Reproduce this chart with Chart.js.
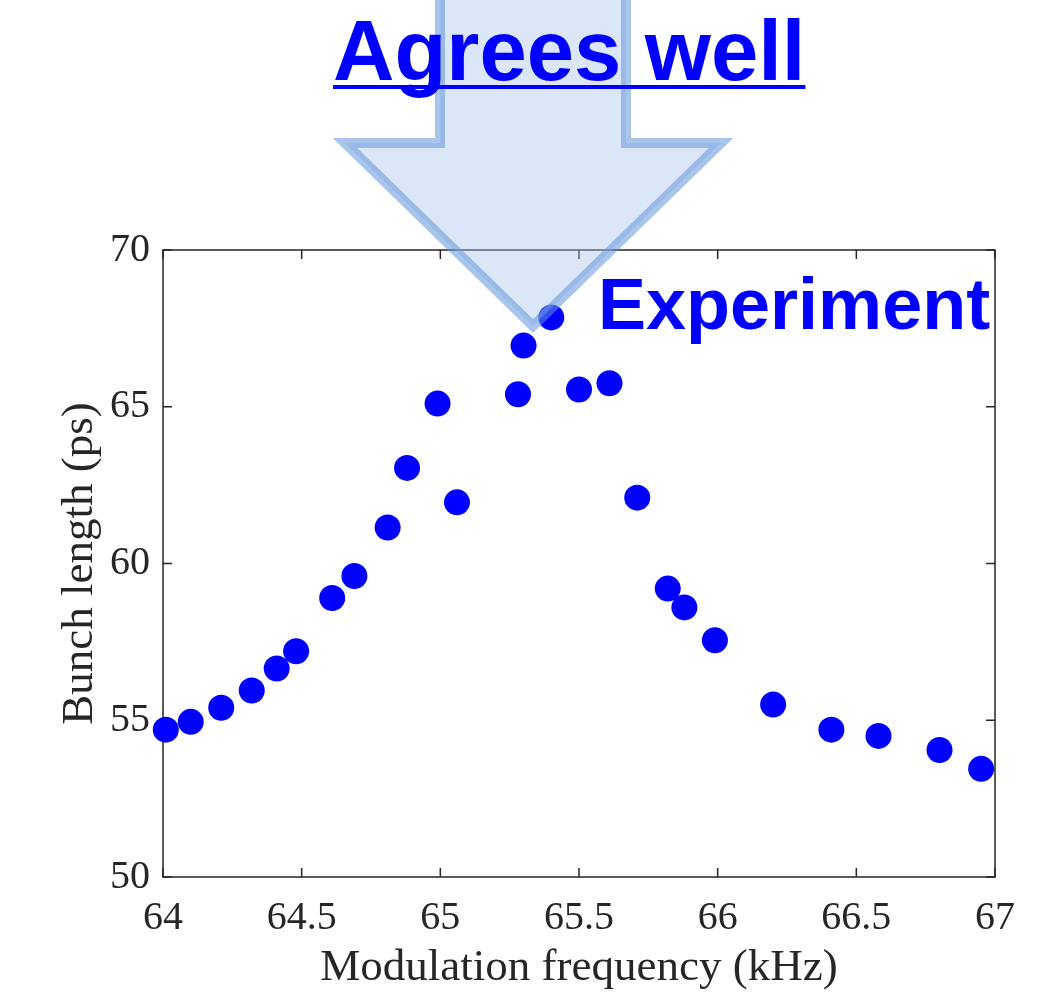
<!DOCTYPE html>
<html>
<head>
<meta charset="utf-8">
<script src="https://cdn.jsdelivr.net/npm/chart.js@4"></script>
<style>
  html, body { margin: 0; padding: 0; background: #fff; }
  #wrap { width: 1040px; height: 995px; position: relative; }
</style>
</head>
<body>
<div id="wrap"><canvas id="myChart" width="1040" height="995"></canvas></div>
<script>

// modulation frequency (kHz) and measured bunch length (ps)
const freq = [64.01, 64.10, 64.21, 64.32, 64.41, 64.48, 64.61, 64.69, 64.81, 64.88,
  64.99, 65.06, 65.28, 65.30, 65.40, 65.50, 65.61, 65.71, 65.82, 65.88,
  65.99, 66.20, 66.41, 66.58, 66.80, 66.95];
const bunchLength = [54.7, 54.95, 55.4, 55.95, 56.65, 57.2, 58.9, 59.6, 61.15, 63.05,
  65.1, 61.95, 65.4, 66.95, 67.85, 65.55, 65.75, 62.1, 59.2, 58.6,
  57.55, 55.5, 54.7, 54.5, 54.05, 53.45];

const xRange = [64, 67];
const yRange = [50, 70];

const axisColor = '#262626';
const serif = "'Liberation Serif', 'Times New Roman', serif";
const tickFont = { family: serif, size: 40 };
const titleFont = { family: serif, size: 45 };

// box around the plot + inward ticks (MATLAB style)
const boxTicks = {
  id: 'boxTicks',
  beforeDatasetsDraw(chart) {
    const { ctx, chartArea: { left, right, top, bottom }, scales: { x, y } } = chart;
    const tl = 9;
    ctx.save();
    ctx.strokeStyle = axisColor;
    ctx.lineWidth = 1.5;
    ctx.strokeRect(left, top, right - left, bottom - top);
    ctx.beginPath();
    x.ticks.forEach(t => {
      const px = x.getPixelForValue(t.value);
      ctx.moveTo(px, bottom); ctx.lineTo(px, bottom - tl);
      ctx.moveTo(px, top); ctx.lineTo(px, top + tl);
    });
    y.ticks.forEach(t => {
      const py = y.getPixelForValue(t.value);
      ctx.moveTo(left, py); ctx.lineTo(left + tl, py);
      ctx.moveTo(right, py); ctx.lineTo(right - tl, py);
    });
    ctx.stroke();
    ctx.restore();
  }
};

// the big translucent arrow pointing at the peak
const bigArrow = {
  id: 'bigArrow',
  afterDatasetsDraw(chart) {
    const { ctx } = chart;
    ctx.save();
    ctx.beginPath();
    ctx.moveTo(440, -20);
    ctx.lineTo(440, 143);
    ctx.lineTo(345, 143);
    ctx.lineTo(533, 326);
    ctx.lineTo(721, 143);
    ctx.lineTo(626, 143);
    ctx.lineTo(626, -20);
    ctx.closePath();
    ctx.fillStyle = 'rgba(165,195,238,0.4)';
    ctx.fill();
    ctx.lineWidth = 10;
    ctx.lineJoin = 'miter';
    ctx.strokeStyle = 'rgba(100,150,220,0.55)';
    ctx.stroke();
    ctx.restore();
  }
};

const labels = {
  id: 'labels',
  afterDraw(chart) {
    const { ctx } = chart;
    ctx.save();
    ctx.fillStyle = '#0000ff';
    ctx.textAlign = 'left';
    ctx.textBaseline = 'alphabetic';
    ctx.font = "bold 85px 'Liberation Sans', Arial, sans-serif";
    const t = 'Agrees well';
    ctx.fillText(t, 333, 80);
    const w = ctx.measureText(t).width;
    ctx.fillRect(333, 85, w, 4);

    ctx.font = "bold 72px 'Liberation Sans', Arial, sans-serif";
    ctx.fillText('Experiment', 598, 329);
    ctx.restore();
  }
};

const ctx = document.getElementById('myChart');

new Chart(ctx, {
  type: 'scatter',
  data: {
    datasets: [
      {
        label: 'Experiment',
        data: freq.map((f, i) => ({ x: f, y: bunchLength[i] })),
        backgroundColor: '#0000ff',
        borderColor: '#0000ff',
        pointRadius: 13,
        borderWidth: 0,
        clip: false,
      },
    ]
  },
  options: {
    responsive: false,
    animation: false,
    layout: {
      padding: { left: 0, top: 250, right: 45, bottom: 0 }
    },
    plugins: {
      legend: { display: false },
      tooltip: { enabled: false },
    },
    scales: {
      x: {
        type: 'linear',
        min: xRange[0],
        max: xRange[1],
        afterFit(scale) { scale.height = 118; },
        grid: { display: false, drawTicks: false },
        border: { display: false },
        ticks: {
          stepSize: 0.5,
          padding: 17,
          color: axisColor,
          font: tickFont,
          maxRotation: 0,
          autoSkip: false,
          callback: v => String(Number(v.toFixed(2))),
        },
        title: {
          display: true,
          text: 'Modulation frequency (kHz)',
          color: axisColor,
          font: titleFont,
          padding: { top: 0, bottom: 0 },
        },
      },
      y: {
        type: 'linear',
        min: yRange[0],
        max: yRange[1],
        afterFit(scale) { scale.width = 163; },
        grid: { display: false, drawTicks: false },
        border: { display: false },
        ticks: {
          stepSize: 5,
          padding: 13,
          color: axisColor,
          font: tickFont,
        },
        title: {
          display: true,
          text: 'Bunch length (ps)',
          color: axisColor,
          font: titleFont,
          padding: { top: 53, bottom: 0 },
        },
      },
    },
  },
  plugins: [boxTicks, bigArrow, labels]
});
</script>
</body>
</html>
